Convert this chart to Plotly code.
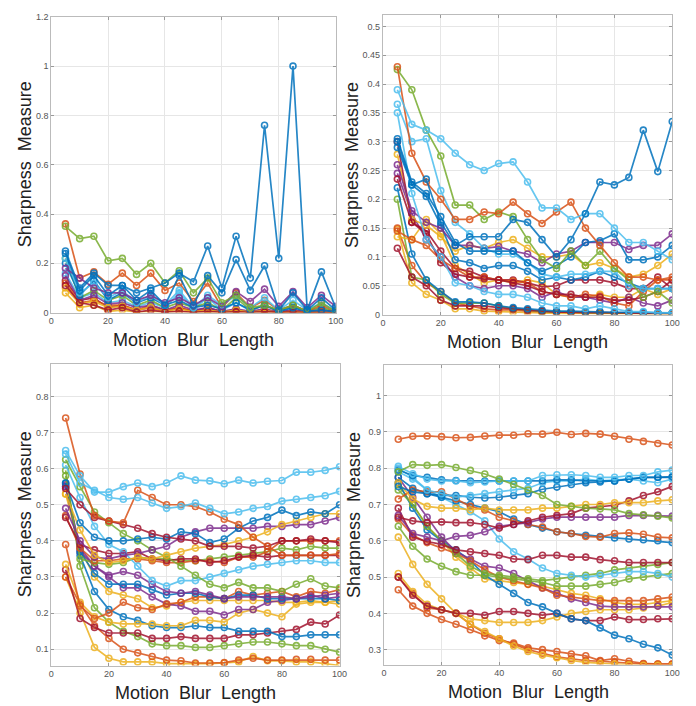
import plotly.graph_objects as go

X = [5, 10, 15, 20, 25, 30, 35, 40, 45, 50, 55, 60, 65, 70, 75, 80, 85, 90, 95, 100]

BLUE, ORANGE, YELLOW, PURPLE, GREEN, LBLUE, DRED = "#0072BD", "#D95319", "#EDB120", "#7E2F8E", "#77AC30", "#4DBEEE", "#A2142F"
RED = ORANGE

# ---------------- panel 1 (top-left) ----------------
p1_colors = [YELLOW, DRED, ORANGE, LBLUE, GREEN, PURPLE, YELLOW, DRED, ORANGE, BLUE, LBLUE, PURPLE, GREEN, BLUE, BLUE]
p1_series = [
    [0.08, 0.02, 0.03, 0.005, 0.01, 0.002, 0.005, 0.002, 0.005, 0.001, 0.003, 0.001, 0.003, 0.001, 0.002, 0.001, 0.002, 0.001, 0.002, 0.001],
    [0.13, 0.05, 0.06, 0.02, 0.03, 0.01, 0.02, 0.005, 0.02, 0.005, 0.02, 0.003, 0.01, 0.003, 0.01, 0.002, 0.01, 0.002, 0.005, 0.002],
    [0.12, 0.04, 0.05, 0.03, 0.03, 0.01, 0.03, 0.01, 0.02, 0.005, 0.015, 0.005, 0.01, 0.003, 0.01, 0.002, 0.005, 0.002, 0.005, 0.002],
    [0.16, 0.06, 0.08, 0.04, 0.05, 0.025, 0.04, 0.02, 0.08, 0.015, 0.06, 0.01, 0.04, 0.008, 0.03, 0.005, 0.02, 0.005, 0.02, 0.003],
    [0.22, 0.06, 0.09, 0.05, 0.07, 0.03, 0.05, 0.02, 0.04, 0.02, 0.04, 0.01, 0.06, 0.01, 0.03, 0.005, 0.03, 0.005, 0.02, 0.003],
    [0.15, 0.05, 0.07, 0.035, 0.04, 0.02, 0.03, 0.01, 0.03, 0.01, 0.02, 0.005, 0.015, 0.005, 0.015, 0.003, 0.01, 0.003, 0.01, 0.003],
    [0.10, 0.035, 0.045, 0.02, 0.025, 0.01, 0.02, 0.005, 0.015, 0.003, 0.01, 0.002, 0.01, 0.002, 0.008, 0.001, 0.005, 0.001, 0.003, 0.001],
    [0.11, 0.04, 0.03, 0.01, 0.02, 0.002, 0.01, 0.002, 0.005, 0.001, 0.005, 0.001, 0.003, 0.001, 0.003, 0.001, 0.002, 0.001, 0.002, 0.001],
    [0.36, 0.14, 0.165, 0.115, 0.16, 0.11, 0.16, 0.09, 0.12, 0.045, 0.12, 0.02, 0.08, 0.02, 0.05, 0.01, 0.03, 0.005, 0.03, 0.005],
    [0.20, 0.07, 0.13, 0.05, 0.08, 0.04, 0.06, 0.03, 0.05, 0.02, 0.03, 0.015, 0.04, 0.01, 0.03, 0.005, 0.02, 0.005, 0.01, 0.003],
    [0.22, 0.08, 0.12, 0.06, 0.09, 0.04, 0.07, 0.03, 0.09, 0.02, 0.07, 0.03, 0.07, 0.02, 0.06, 0.01, 0.05, 0.01, 0.04, 0.005],
    [0.18, 0.14, 0.10, 0.08, 0.08, 0.05, 0.07, 0.04, 0.06, 0.03, 0.06, 0.025, 0.085, 0.045, 0.095, 0.025, 0.085, 0.02, 0.07, 0.025],
    [0.35, 0.30, 0.31, 0.21, 0.22, 0.155, 0.20, 0.12, 0.17, 0.08, 0.14, 0.04, 0.07, 0.02, 0.03, 0.01, 0.03, 0.005, 0.04, 0.005],
    [0.24, 0.09, 0.15, 0.07, 0.11, 0.05, 0.09, 0.03, 0.15, 0.03, 0.15, 0.08, 0.215, 0.09, 0.19, 0.01, 0.08, 0.01, 0.06, 0.01],
    [0.25, 0.10, 0.16, 0.11, 0.11, 0.08, 0.10, 0.12, 0.16, 0.125, 0.27, 0.10, 0.31, 0.14, 0.76, 0.22, 1.0, 0.01, 0.165, 0.02],
]

# ---------------- panel 2 (top-right) ----------------
p2_colors = [YELLOW, ORANGE, GREEN, DRED, BLUE, YELLOW, PURPLE, DRED, ORANGE, YELLOW, DRED, BLUE, PURPLE, LBLUE, LBLUE, BLUE, GREEN, ORANGE, LBLUE, BLUE]
p2_series = [
    [0.148, 0.055, 0.035, 0.025, 0.01, 0.01, 0.006, 0.005, 0.004, 0.003, 0.003, 0.002, 0.002, 0.002, 0.001, 0.001, 0.001, 0.001, 0.001, 0.001],
    [0.15, 0.085, 0.055, 0.04, 0.02, 0.015, 0.01, 0.008, 0.008, 0.006, 0.005, 0.005, 0.004, 0.003, 0.003, 0.003, 0.002, 0.002, 0.002, 0.002],
    [0.20, 0.065, 0.06, 0.035, 0.02, 0.02, 0.02, 0.015, 0.01, 0.008, 0.005, 0.005, 0.004, 0.004, 0.003, 0.003, 0.003, 0.002, 0.002, 0.002],
    [0.115, 0.065, 0.05, 0.025, 0.015, 0.015, 0.015, 0.012, 0.01, 0.008, 0.006, 0.004, 0.004, 0.004, 0.004, 0.003, 0.003, 0.002, 0.002, 0.002],
    [0.22, 0.105, 0.06, 0.04, 0.022, 0.022, 0.02, 0.015, 0.012, 0.01, 0.008, 0.006, 0.006, 0.005, 0.005, 0.004, 0.004, 0.004, 0.003, 0.003],
    [0.135, 0.13, 0.165, 0.14, 0.085, 0.07, 0.055, 0.06, 0.055, 0.06, 0.055, 0.035, 0.03, 0.03, 0.035, 0.03, 0.03, 0.045, 0.035, 0.045],
    [0.245, 0.175, 0.13, 0.10, 0.065, 0.05, 0.045, 0.05, 0.05, 0.045, 0.03, 0.04, 0.03, 0.03, 0.025, 0.02, 0.03, 0.02, 0.015, 0.025],
    [0.235, 0.16, 0.145, 0.11, 0.08, 0.075, 0.065, 0.06, 0.06, 0.055, 0.048, 0.05, 0.06, 0.06, 0.06, 0.055, 0.045, 0.045, 0.065, 0.045],
    [0.145, 0.13, 0.12, 0.095, 0.08, 0.065, 0.065, 0.06, 0.058, 0.055, 0.04, 0.035, 0.03, 0.035, 0.032, 0.02, 0.015, 0.04, 0.06, 0.06],
    [0.278, 0.165, 0.155, 0.135, 0.11, 0.12, 0.115, 0.125, 0.13, 0.115, 0.10, 0.10, 0.105, 0.085, 0.09, 0.08, 0.065, 0.07, 0.085, 0.105],
    [0.30, 0.16, 0.14, 0.09, 0.07, 0.065, 0.062, 0.06, 0.055, 0.05, 0.04, 0.035, 0.035, 0.03, 0.03, 0.025, 0.025, 0.03, 0.04, 0.06],
    [0.29, 0.225, 0.205, 0.155, 0.095, 0.09, 0.08, 0.085, 0.085, 0.075, 0.06, 0.065, 0.06, 0.065, 0.075, 0.065, 0.055, 0.045, 0.045, 0.045],
    [0.26, 0.18, 0.16, 0.15, 0.12, 0.12, 0.115, 0.118, 0.11, 0.105, 0.09, 0.105, 0.11, 0.125, 0.125, 0.125, 0.113, 0.12, 0.12, 0.14],
    [0.35, 0.21, 0.13, 0.10, 0.055, 0.05, 0.04, 0.035, 0.035, 0.03, 0.02, 0.015, 0.015, 0.01, 0.015, 0.01, 0.005, 0.005, 0.003, 0.003],
    [0.365, 0.30, 0.305, 0.215, 0.16, 0.14, 0.115, 0.105, 0.105, 0.09, 0.07, 0.065, 0.07, 0.07, 0.075, 0.075, 0.05, 0.045, 0.045, 0.045],
    [0.305, 0.23, 0.21, 0.17, 0.125, 0.11, 0.11, 0.11, 0.11, 0.09, 0.075, 0.085, 0.10, 0.125, 0.128, 0.14, 0.095, 0.095, 0.10, 0.12],
    [0.425, 0.39, 0.32, 0.275, 0.19, 0.19, 0.165, 0.178, 0.17, 0.13, 0.095, 0.08, 0.11, 0.085, 0.11, 0.08, 0.06, 0.03, 0.04, 0.02],
    [0.43, 0.28, 0.23, 0.20, 0.165, 0.165, 0.178, 0.175, 0.195, 0.175, 0.158, 0.178, 0.195, 0.15, 0.12, 0.09, 0.065, 0.065, 0.06, 0.065],
    [0.39, 0.33, 0.32, 0.305, 0.28, 0.26, 0.25, 0.262, 0.265, 0.23, 0.185, 0.185, 0.165, 0.175, 0.175, 0.15, 0.125, 0.125, 0.11, 0.095],
    [0.30, 0.225, 0.235, 0.16, 0.12, 0.135, 0.135, 0.135, 0.165, 0.16, 0.13, 0.10, 0.13, 0.175, 0.23, 0.225, 0.238, 0.32, 0.248, 0.335],
]

# ---------------- panel 3 (bottom-left) ----------------
p3_colors = [YELLOW, ORANGE, GREEN, DRED, BLUE, YELLOW, YELLOW, PURPLE, ORANGE, BLUE, PURPLE, GREEN, RED, DRED, LBLUE, GREEN, PURPLE, YELLOW, BLUE, DRED, ORANGE, LBLUE, LBLUE]
p3_series = [
    [0.30, 0.20, 0.105, 0.075, 0.065, 0.065, 0.065, 0.06, 0.06, 0.058, 0.06, 0.062, 0.065, 0.08, 0.068, 0.068, 0.065, 0.065, 0.06, 0.055],
    [0.30, 0.225, 0.165, 0.13, 0.10, 0.09, 0.08, 0.07, 0.068, 0.062, 0.062, 0.063, 0.07, 0.075, 0.07, 0.07, 0.072, 0.072, 0.07, 0.07],
    [0.595, 0.33, 0.215, 0.175, 0.15, 0.135, 0.115, 0.11, 0.11, 0.105, 0.105, 0.11, 0.115, 0.12, 0.12, 0.115, 0.11, 0.11, 0.10, 0.092],
    [0.32, 0.185, 0.16, 0.145, 0.145, 0.145, 0.13, 0.13, 0.135, 0.13, 0.13, 0.13, 0.14, 0.14, 0.145, 0.15, 0.155, 0.175, 0.17, 0.195],
    [0.55, 0.36, 0.26, 0.21, 0.19, 0.18, 0.165, 0.16, 0.16, 0.165, 0.16, 0.16, 0.15, 0.15, 0.15, 0.135, 0.135, 0.14, 0.14, 0.14],
    [0.53, 0.38, 0.30, 0.26, 0.25, 0.24, 0.215, 0.22, 0.23, 0.235, 0.235, 0.235, 0.235, 0.235, 0.235, 0.23, 0.23, 0.235, 0.23, 0.225],
    [0.335, 0.23, 0.19, 0.175, 0.17, 0.17, 0.17, 0.165, 0.165, 0.18, 0.18, 0.175, 0.20, 0.21, 0.20, 0.19, 0.225, 0.23, 0.23, 0.235],
    [0.55, 0.37, 0.33, 0.30, 0.27, 0.27, 0.245, 0.225, 0.22, 0.205, 0.205, 0.195, 0.21, 0.21, 0.23, 0.235, 0.24, 0.25, 0.24, 0.245],
    [0.39, 0.22, 0.185, 0.20, 0.23, 0.215, 0.21, 0.225, 0.23, 0.245, 0.245, 0.24, 0.26, 0.25, 0.255, 0.26, 0.245, 0.26, 0.255, 0.265],
    [0.56, 0.37, 0.31, 0.28, 0.28, 0.28, 0.265, 0.25, 0.255, 0.255, 0.245, 0.24, 0.25, 0.25, 0.24, 0.24, 0.24, 0.24, 0.24, 0.235],
    [0.555, 0.38, 0.33, 0.305, 0.315, 0.305, 0.28, 0.26, 0.255, 0.26, 0.25, 0.24, 0.245, 0.245, 0.245, 0.245, 0.24, 0.245, 0.25, 0.255],
    [0.58, 0.35, 0.34, 0.335, 0.34, 0.355, 0.35, 0.35, 0.345, 0.345, 0.35, 0.355, 0.36, 0.365, 0.37, 0.38, 0.375, 0.385, 0.38, 0.38],
    [0.47, 0.38, 0.345, 0.345, 0.35, 0.35, 0.345, 0.34, 0.34, 0.345, 0.345, 0.34, 0.355, 0.355, 0.37, 0.40, 0.40, 0.40, 0.40, 0.40],
    [0.465, 0.39, 0.375, 0.365, 0.365, 0.37, 0.35, 0.345, 0.35, 0.35, 0.34, 0.345, 0.355, 0.36, 0.355, 0.36, 0.36, 0.36, 0.36, 0.36],
    [0.61, 0.52, 0.44, 0.39, 0.37, 0.33, 0.29, 0.275, 0.29, 0.29, 0.30, 0.31, 0.32, 0.33, 0.335, 0.34, 0.345, 0.345, 0.34, 0.34],
    [0.625, 0.55, 0.48, 0.45, 0.42, 0.40, 0.375, 0.355, 0.33, 0.305, 0.28, 0.27, 0.285, 0.27, 0.27, 0.26, 0.28, 0.295, 0.275, 0.27],
    [0.49, 0.40, 0.355, 0.35, 0.36, 0.365, 0.375, 0.385, 0.41, 0.425, 0.435, 0.435, 0.435, 0.435, 0.44, 0.44, 0.445, 0.445, 0.455, 0.465],
    [0.53, 0.43, 0.36, 0.34, 0.345, 0.355, 0.35, 0.36, 0.37, 0.38, 0.385, 0.39, 0.40, 0.41, 0.425, 0.445, 0.455, 0.465, 0.475, 0.475],
    [0.56, 0.45, 0.41, 0.40, 0.40, 0.405, 0.41, 0.405, 0.425, 0.42, 0.395, 0.405, 0.435, 0.455, 0.465, 0.485, 0.47, 0.48, 0.475, 0.50],
    [0.545, 0.50, 0.465, 0.455, 0.445, 0.435, 0.42, 0.41, 0.405, 0.40, 0.385, 0.385, 0.385, 0.38, 0.385, 0.40, 0.40, 0.405, 0.40, 0.395],
    [0.74, 0.585, 0.47, 0.455, 0.45, 0.54, 0.52, 0.50, 0.50, 0.495, 0.48, 0.46, 0.445, 0.41, 0.385, 0.36, 0.36, 0.36, 0.36, 0.365],
    [0.64, 0.56, 0.54, 0.52, 0.515, 0.52, 0.505, 0.49, 0.495, 0.505, 0.49, 0.475, 0.48, 0.49, 0.495, 0.51, 0.515, 0.52, 0.525, 0.537],
    [0.65, 0.58, 0.535, 0.535, 0.55, 0.56, 0.55, 0.56, 0.58, 0.568, 0.566, 0.558, 0.568, 0.56, 0.565, 0.567, 0.59, 0.59, 0.595, 0.605],
]

# ---------------- panel 4 (bottom-right) ----------------
p4_colors = [ORANGE, ORANGE, YELLOW, YELLOW, DRED, YELLOW, BLUE, PURPLE, RED, GREEN, GREEN, LBLUE, DRED, BLUE, ORANGE, PURPLE, DRED, YELLOW, BLUE, LBLUE, BLUE, LBLUE, GREEN, ORANGE]
p4_series = [
    [0.50, 0.455, 0.415, 0.41, 0.40, 0.37, 0.345, 0.33, 0.315, 0.30, 0.29, 0.28, 0.275, 0.27, 0.268, 0.265, 0.262, 0.26, 0.26, 0.26],
    [0.465, 0.42, 0.40, 0.383, 0.37, 0.355, 0.338, 0.325, 0.318, 0.305, 0.30, 0.295, 0.288, 0.283, 0.27, 0.275, 0.268, 0.262, 0.26, 0.26],
    [0.51, 0.46, 0.425, 0.41, 0.40, 0.37, 0.35, 0.33, 0.31, 0.295, 0.285, 0.278, 0.27, 0.265, 0.262, 0.26, 0.258, 0.257, 0.257, 0.256],
    [0.61, 0.535, 0.48, 0.44, 0.40, 0.385, 0.38, 0.375, 0.375, 0.375, 0.38, 0.39, 0.40, 0.405, 0.41, 0.41, 0.41, 0.415, 0.42, 0.43],
    [0.50, 0.45, 0.42, 0.41, 0.40, 0.40, 0.395, 0.405, 0.405, 0.40, 0.395, 0.40, 0.385, 0.38, 0.38, 0.39, 0.383, 0.383, 0.385, 0.385],
    [0.755, 0.70, 0.64, 0.60, 0.555, 0.525, 0.495, 0.49, 0.485, 0.48, 0.475, 0.465, 0.455, 0.45, 0.44, 0.43, 0.425, 0.425, 0.43, 0.435],
    [0.76, 0.69, 0.63, 0.60, 0.575, 0.545, 0.505, 0.48, 0.455, 0.43, 0.418, 0.40, 0.385, 0.38, 0.36, 0.34, 0.33, 0.315, 0.305, 0.285],
    [0.775, 0.72, 0.665, 0.61, 0.57, 0.55, 0.53, 0.525, 0.51, 0.49, 0.47, 0.455, 0.44, 0.43, 0.42, 0.418, 0.418, 0.418, 0.42, 0.418],
    [0.66, 0.615, 0.595, 0.58, 0.565, 0.545, 0.52, 0.50, 0.49, 0.48, 0.47, 0.45, 0.445, 0.44, 0.435, 0.435, 0.435, 0.435, 0.44, 0.445],
    [0.74, 0.70, 0.64, 0.60, 0.565, 0.53, 0.51, 0.505, 0.50, 0.495, 0.49, 0.495, 0.50, 0.505, 0.51, 0.52, 0.525, 0.53, 0.535, 0.54],
    [0.64, 0.585, 0.55, 0.53, 0.515, 0.505, 0.505, 0.50, 0.495, 0.49, 0.485, 0.475, 0.475, 0.475, 0.48, 0.485, 0.495, 0.50, 0.505, 0.51],
    [0.79, 0.77, 0.74, 0.72, 0.70, 0.68, 0.655, 0.605, 0.57, 0.55, 0.525, 0.51, 0.505, 0.50, 0.505, 0.51, 0.515, 0.515, 0.51, 0.50],
    [0.69, 0.61, 0.598, 0.59, 0.575, 0.57, 0.565, 0.56, 0.55, 0.548, 0.56, 0.56, 0.555, 0.555, 0.548, 0.545, 0.54, 0.54, 0.54, 0.54],
    [0.775, 0.745, 0.73, 0.72, 0.71, 0.70, 0.69, 0.68, 0.66, 0.645, 0.635, 0.625, 0.62, 0.615, 0.612, 0.608, 0.605, 0.603, 0.60, 0.595],
    [0.715, 0.74, 0.735, 0.735, 0.715, 0.695, 0.685, 0.665, 0.655, 0.645, 0.638, 0.625, 0.62, 0.612, 0.61, 0.62, 0.622, 0.618, 0.61, 0.608],
    [0.67, 0.62, 0.61, 0.60, 0.612, 0.615, 0.625, 0.64, 0.645, 0.65, 0.66, 0.665, 0.665, 0.665, 0.665, 0.665, 0.67, 0.67, 0.67, 0.668],
    [0.665, 0.655, 0.65, 0.652, 0.65, 0.65, 0.645, 0.635, 0.645, 0.655, 0.665, 0.67, 0.675, 0.69, 0.695, 0.698, 0.71, 0.725, 0.735, 0.75],
    [0.76, 0.715, 0.695, 0.69, 0.69, 0.685, 0.69, 0.685, 0.685, 0.685, 0.69, 0.69, 0.695, 0.70, 0.70, 0.705, 0.705, 0.705, 0.71, 0.713],
    [0.75, 0.735, 0.73, 0.725, 0.725, 0.72, 0.718, 0.72, 0.725, 0.73, 0.742, 0.748, 0.755, 0.76, 0.762, 0.765, 0.77, 0.775, 0.775, 0.775],
    [0.80, 0.775, 0.74, 0.73, 0.72, 0.725, 0.73, 0.735, 0.74, 0.745, 0.76, 0.765, 0.765, 0.77, 0.765, 0.768, 0.77, 0.765, 0.76, 0.77],
    [0.795, 0.78, 0.775, 0.768, 0.766, 0.765, 0.765, 0.765, 0.765, 0.765, 0.765, 0.768, 0.768, 0.765, 0.765, 0.765, 0.77, 0.775, 0.775, 0.777],
    [0.805, 0.785, 0.77, 0.765, 0.765, 0.76, 0.762, 0.765, 0.765, 0.765, 0.78, 0.782, 0.782, 0.78, 0.775, 0.775, 0.78, 0.78, 0.79, 0.795],
    [0.79, 0.81, 0.808, 0.81, 0.802, 0.794, 0.784, 0.77, 0.755, 0.74, 0.725, 0.70, 0.695, 0.69, 0.688, 0.685, 0.675, 0.672, 0.668, 0.663],
    [0.88, 0.888, 0.889, 0.887, 0.884, 0.885, 0.889, 0.891, 0.891, 0.895, 0.894, 0.899, 0.893, 0.896, 0.894, 0.888, 0.88, 0.874, 0.868, 0.864],
]

Y_RANGES = [[0, 1.2], [0, 0.52], [0.055, 0.89], [0.259, 1.085]]
Y_TICKS = [[0, 0.2, 0.4, 0.6, 0.8, 1, 1.2],
           [0, 0.05, 0.1, 0.15, 0.2, 0.25, 0.3, 0.35, 0.4, 0.45, 0.5],
           [0.1, 0.2, 0.3, 0.4, 0.5, 0.6, 0.7, 0.8],
           [0.3, 0.4, 0.5, 0.6, 0.7, 0.8, 0.9, 1]]
X_TICKS = [0, 20, 40, 60, 80, 100]

W, H = 696, 706
# plot-area pixel boxes (left, right, top, bottom)
boxes = [(49, 338, 12, 312), (386, 680, 10, 314), (49, 342, 364, 670), (387, 680, 365, 669)]
ytitle_x = [22, 354, 22, 356]

fig = go.Figure()
panels = [(p1_series, p1_colors), (p2_series, p2_colors), (p3_series, p3_colors), (p4_series, p4_colors)]
for i, (series, colors) in enumerate(panels):
    xa = "x" if i == 0 else f"x{i+1}"
    ya = "y" if i == 0 else f"y{i+1}"
    for vals, c in zip(series, colors):
        fig.add_trace(go.Scatter(
            x=X, y=vals, mode="lines+markers", xaxis=xa, yaxis=ya,
            line=dict(color=c, width=1.7),
            marker=dict(symbol="circle-open", size=6, color=c, line=dict(width=1.6)),
            opacity=0.85, showlegend=False, cliponaxis=True))

tickfont = dict(family="Liberation Sans, Arial, sans-serif", size=9, color="#555")
layout = dict(width=W, height=H, margin=dict(l=0, r=0, t=0, b=0),
              paper_bgcolor="white", plot_bgcolor="white", showlegend=False)
for i, (l, r, t, b) in enumerate(boxes):
    xk = "xaxis" if i == 0 else f"xaxis{i+1}"
    yk = "yaxis" if i == 0 else f"yaxis{i+1}"
    ya = "y" if i == 0 else f"y{i+1}"
    xa = "x" if i == 0 else f"x{i+1}"
    layout[xk] = dict(domain=[l / W, r / W], range=[0, 100], anchor=ya,
                      tickvals=X_TICKS, showgrid=True, gridcolor="#e6e6e6", gridwidth=1,
                      showline=True, mirror="ticks", linecolor="#bbbbbb", linewidth=1,
                      ticks="inside", ticklen=3, tickcolor="#999", tickfont=tickfont, zeroline=False)
    layout[yk] = dict(domain=[1 - b / H, 1 - t / H], range=Y_RANGES[i], anchor=xa,
                      tickvals=Y_TICKS[i], showgrid=True, gridcolor="#e6e6e6", gridwidth=1,
                      showline=True, mirror="ticks", linecolor="#bbbbbb", linewidth=1,
                      ticks="inside", ticklen=3, tickcolor="#999", tickfont=tickfont, zeroline=False)
fig.update_layout(**layout)

titlefont = dict(family="Liberation Sans, Arial, sans-serif", size=18, color="#222")
xt = "Motion\u00a0 Blur\u00a0 Length"
yt = "Sharpness\u00a0 Measure"
ann = []
for i, (l, r, t, b) in enumerate(boxes):
    ann.append(dict(text=xt, x=(l + r) / 2 / W, y=1 - (b + 28) / H, xref="paper", yref="paper",
                    xanchor="center", yanchor="middle", showarrow=False, font=titlefont))
    ann.append(dict(text=yt, x=ytitle_x[i] / W, y=1 - (t + b) / 2 / H, xref="paper", yref="paper",
                    xanchor="center", yanchor="middle", showarrow=False, font=titlefont, textangle=-90))
fig.update_layout(annotations=ann)

fig.write_html("out.html", config={"displayModeBar": False},
               post_script="document.body.style.margin='0px';document.body.style.overflow='hidden';")
